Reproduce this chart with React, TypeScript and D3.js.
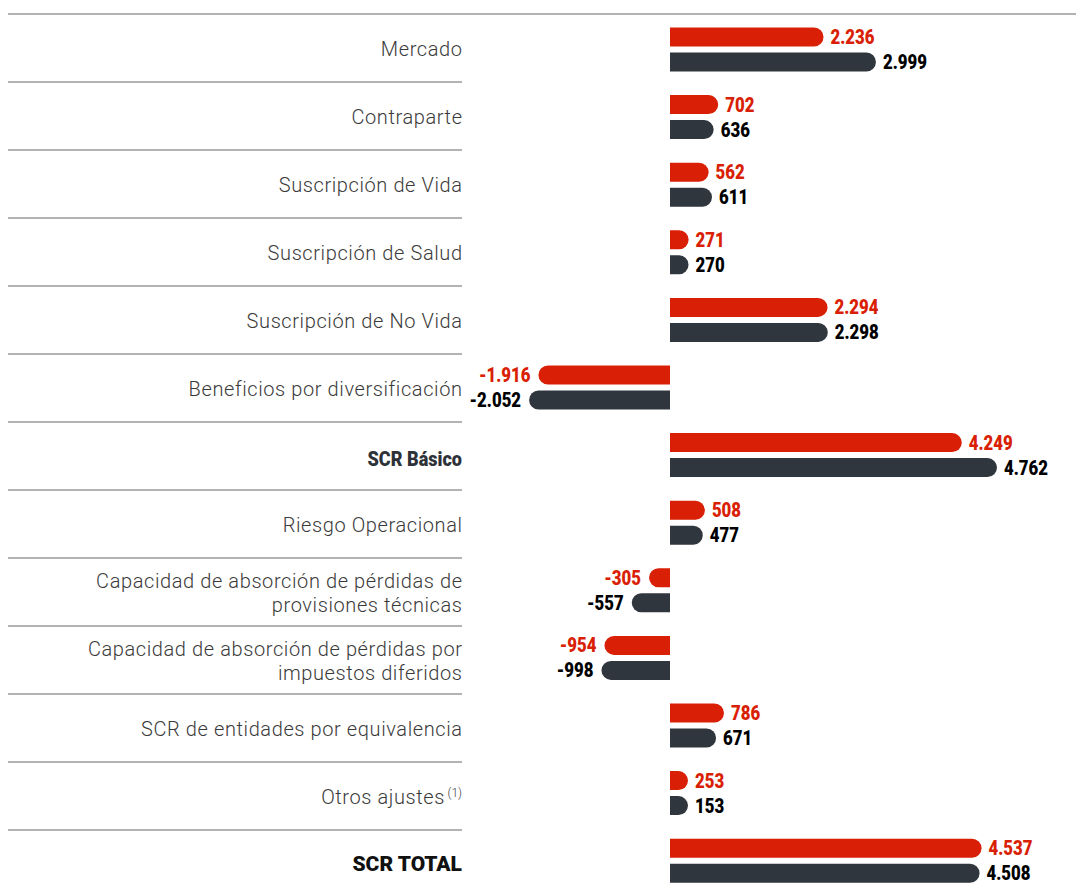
import React, { useEffect, useRef } from 'react';
import * as d3 from 'd3';

const categories = [
  'Mercado',
  'Contraparte',
  'Suscripción de Vida',
  'Suscripción de Salud',
  'Suscripción de No Vida',
  'Beneficios por diversificación',
  'SCR Básico',
  'Riesgo Operacional',
  'Capacidad de absorción de pérdidas de|provisiones técnicas',
  'Capacidad de absorción de pérdidas por|impuestos diferidos',
  'SCR de entidades por equivalencia',
  'Otros ajustes',
  'SCR TOTAL',
];
const currentValues = [2236, 702, 562, 271, 2294, -1916, 4249, 508, -305, -954, 786, 253, 4537];
const previousValues = [2999, 636, 611, 270, 2298, -2052, 4762, 477, -557, -998, 671, 153, 4508];
const seriesKeys = ['current', 'previous'];

const W = 1076;
const H = 886;
const RED = '#d91f05';
const DARK = '#30363d';
const fmt = (v: number) => d3.format(',')(Math.abs(v)).replace(/,/g, '.');

// bar with only the outer end rounded
function barPath(x0: number, x1: number, y: number, h: number, r: number) {
  const w = Math.abs(x1 - x0);
  const rr = Math.min(r, w, h / 2);
  if (x1 >= x0) {
    return `M${x0},${y}H${x1 - rr}A${rr},${rr} 0 0 1 ${x1},${y + rr}V${y + h - rr}A${rr},${rr} 0 0 1 ${x1 - rr},${y + h}H${x0}Z`;
  }
  return `M${x0},${y}H${x1 + rr}A${rr},${rr} 0 0 0 ${x1},${y + rr}V${y + h - rr}A${rr},${rr} 0 0 0 ${x1 + rr},${y + h}H${x0}Z`;
}

export default function App() {
  const svgRef = useRef<SVGSVGElement>(null);

  useEffect(() => {
    if (!svgRef.current) return;
    const svg = d3.select(svgRef.current);
    svg.selectAll('*').remove();

    const rowH = 68;
    const top = 14;
    // rows for labels / separators
    const y = d3.scaleBand<string>()
      .domain(categories)
      .range([top, top + categories.length * rowH]);
    // bar rows sit on a slightly tighter pitch
    const yBar = d3.scaleBand<string>()
      .domain(categories)
      .range([14, 14 + categories.length * 67.6]);
    const sub = d3.scaleBand<string>()
      .domain(seriesKeys)
      .range([13.5, 57.5])
      .paddingInner(0.24);
    const x = d3.scaleLinear().domain([0, 4762]).range([670, 997]);
    const minW = 18;
    const barEnd = (v: number) => {
      const w = Math.max(Math.abs(x(v) - x(0)), minW);
      return v >= 0 ? x(0) + w : x(0) - w;
    };

    // top rule
    svg.append('line')
      .attr('x1', 8).attr('x2', W).attr('y1', top).attr('y2', top)
      .attr('stroke', '#9a9a9a').attr('stroke-width', 1.6);

    // row separators
    svg.append('g').selectAll('line')
      .data(categories.slice(1))
      .join('line')
      .attr('x1', 8).attr('x2', 462)
      .attr('y1', (d) => y(d)!).attr('y2', (d) => y(d)!)
      .attr('stroke', '#9a9a9a').attr('stroke-width', 1.6);

    // category labels
    const labels = svg.append('g');
    categories.forEach((c, i) => {
      const cy = y(c)! + rowH / 2;
      const lines = c.split('|');
      if (c === 'SCR Básico') {
        labels.append('text')
          .attr('transform', `translate(462,${cy + 9.5}) scale(0.86,1)`)
          .attr('text-anchor', 'end')
          .attr('fill', '#2d3238')
          .style('font-family', 'Roboto, sans-serif')
          .style('font-weight', 900)
          .style('font-size', '21px')
          .text(c);
        return;
      }
      if (c === 'SCR TOTAL') {
        labels.append('text')
          .attr('x', 462).attr('y', cy + 6.5)
          .attr('text-anchor', 'end')
          .attr('fill', '#111')
          .style('font-family', 'Roboto, sans-serif')
          .style('font-weight', 900)
          .style('font-size', '21px')
          .text(c);
        return;
      }
      const t = labels.append('text')
        .attr('text-anchor', 'end')
        .attr('fill', '#3a3a3a')
        .style('font-family', 'Roboto, sans-serif')
        .style('font-weight', 300)
        .style('font-size', '20px')
        .style('letter-spacing', '0.6px');
      lines.forEach((l, j) => {
        const tspan = t.append('tspan')
          .attr('x', 462.6)
          .attr('y', cy + 8 + (j - (lines.length - 1) / 2) * 24)
          .text(l);
        if (i === 11) {
          tspan.attr('x', 445);
          t.append('tspan').attr('x', 462).attr('dy', -7)
            .style('font-size', '12px').style('letter-spacing', '0px').text('(1)');
        }
      });
    });

    // bars
    const series = [
      { key: 'current', values: currentValues, color: RED, textColor: RED },
      { key: 'previous', values: previousValues, color: DARK, textColor: '#000' },
    ];
    series.forEach((s) => {
      const g = svg.append('g');
      const bh = sub.bandwidth();
      g.selectAll('path')
        .data(s.values)
        .join('path')
        .attr('d', (v, i) => barPath(x(0), barEnd(v), yBar(categories[i])! + sub(s.key)!, bh, 9.5))
        .attr('fill', s.color);
      g.selectAll('text')
        .data(s.values)
        .join('text')
        .attr('transform', (v, i) => {
          const tx = v >= 0 ? barEnd(v) + 7 : barEnd(v) - 8;
          const ty = yBar(categories[i])! + sub(s.key)! + bh / 2 + 7;
          return `translate(${tx},${ty}) scale(0.84,1)`;
        })
        .attr('text-anchor', (v) => (v >= 0 ? 'start' : 'end'))
        .attr('fill', s.textColor)
        .style('font-family', 'Roboto, sans-serif')
        .style('font-weight', 900)
        .style('font-size', '20px')
        .text((v) => (v < 0 ? '-' : '') + fmt(v));
    });
  }, []);

  return (
    <div style={{ position: 'absolute', left: 0, top: 0, background: '#fff' }}>
      <svg ref={svgRef} width={W} height={H} />
    </div>
  );
}
